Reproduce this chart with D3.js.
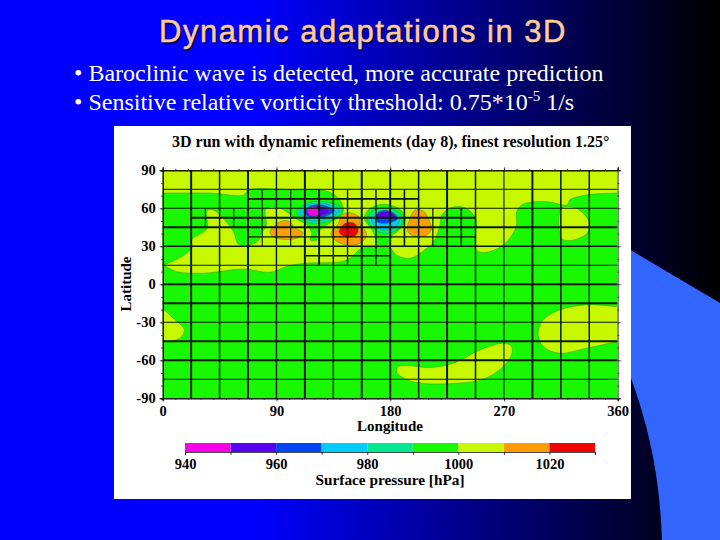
<!DOCTYPE html>
<html>
<head>
<meta charset="utf-8">
<script src="https://cdn.jsdelivr.net/npm/d3@7"></script>
<style>
  html, body { margin: 0; padding: 0; background: #000; overflow: hidden; }
  text { font-family: "Liberation Serif", serif; }
</style>
</head>
<body>
<div id="chart"></div>
<script>
// pressure levels and their colours
var levels = [940, 950, 960, 970, 980, 990, 1000, 1010, 1020, 1030]
var levelColors = ["#f800e8", "#5a00f0", "#0044f4", "#00ccf8", "#00e890", "#18f800", "#c8f800", "#ff9c00", "#f00000"]
var levelTicks = [940, 960, 980, 1000, 1020]
var lonTicks = [0, 90, 180, 270, 360]
var latTicks = [-90, -60, -30, 0, 30, 60, 90]

// contour regions as [longitude, latitude]
var northBand = [[-12, 103], [372, 103], [372, 72], [360, 72], [335, 70.5], [322, 66.6], [320, 62.6], [306, 65], [293, 65], [284, 62.6], [280, 57], [280, 47], [277, 40], [269.5, 31], [255, 25], [248, 27], [247, 36], [248, 51], [240, 60], [230, 61], [221, 55], [219, 45], [214, 33], [209, 28.4], [195.6, 20.5], [185, 23], [180, 28.4], [169, 29.7], [157.4, 28.4], [145.5, 19], [111, 16.5], [98, 14], [85, 9.5], [64, 12], [32, 8.7], [11, 10], [2, 14], [-3, 15], [-12, 15]]
var northWest = [[-12, 72], [0, 72], [37, 72], [64, 70.5], [68, 74.5], [106, 74.5], [128, 74], [138, 69], [143, 60], [141.6, 55], [130, 47], [122, 40], [122, 35], [116.5, 35], [118, 40], [114, 47], [105, 52], [93, 60], [82, 60], [81, 55], [82, 47], [78, 40], [76, 35], [69, 31], [60, 31.6], [56, 41.6], [48, 52], [40, 58.7], [35, 58], [35, 44], [23, 35], [23, 28.5], [0, 15], [-12, 14]]
var patchNorthEast = [[315.6, 60], [327.5, 60], [338, 48], [335.4, 40], [322, 34.5], [315.6, 36.3]]
var patchSouthWest = [[-8, -17], [0, -19.7], [8.4, -26.8], [16.9, -35.4], [15, -41.2], [8.4, -44.6], [0, -45], [-8, -45]]
var patchSouth = [[186.4, -64.9], [193, -64.1], [211.5, -65.7], [230, -62.3], [251, -51.8], [269.5, -46.5], [276, -49.1], [276, -55.7], [268, -66.2], [253.7, -74.9], [235, -78], [203.6, -78], [190.4, -74.1], [185, -68.9]]
var patchSouthEast = [[372, -18], [360, -17.6], [335.4, -16.2], [314, -20.2], [301, -28], [297, -38.6], [301, -49.1], [314, -54.4], [335.4, -50.4], [360, -45.2], [372, -43]]

var lowTwoGreen = [[159.5, 52], [163, 59], [172, 63], [182, 62], [190, 57], [191.7, 50], [186, 42], [181, 38], [179, 32], [170, 30], [168, 38], [165, 44]]
var lowOneTeal = [[106, 57], [112, 63], [122, 65.5], [134, 64], [142, 59], [138, 53], [126, 48.5], [114, 49]]
var lowOneCyan = [[108.5, 57], [113, 62], [122, 64], [133, 62.5], [139.5, 58.5], [135, 54], [125, 50.5], [114, 51]]
var lowOneBlue = [[111.5, 57], [115, 61], [122, 63], [131, 61.5], [136, 58], [132, 55], [124, 52.5], [115, 53.5]]
var lowOnePurple = [[113, 57], [116, 60.5], [122, 62], [129, 60.5], [132, 57.5], [128, 54.5], [122, 53.5], [115, 54.5]]
var lowOneMagenta = [[114.5, 58], [118, 60.5], [122, 60], [124, 57], [122, 54.5], [117, 54.5]]
var lowTwoTeal = [[162, 51], [165, 57], [172, 60], [182, 59.5], [189, 54], [189, 47], [184, 42], [176, 40], [168, 43]]
var lowTwoCyan = [[165, 51], [168, 56], [174, 58], [182, 57], [187, 52], [186, 47], [181, 43.5], [174, 43], [168, 46]]
var lowTwoBlue = [[168, 52], [171, 57], [177, 58.5], [183, 56], [186, 51.5], [181, 49], [175, 48], [170, 49]]
var lowTwoPurple = [[169, 54], [172, 57], [178, 57.5], [183, 55.5], [184, 52.5], [178, 51.5], [172, 51.5]]

var highWest = [[85, 41.6], [93, 49.5], [99.6, 50], [105, 44.4], [111, 40.4], [106, 36.3], [93, 35.8], [86, 38.6]]
var highMiddle = [[148, 56.5], [155, 53.4], [156, 48], [161.4, 39], [156, 32.3], [145.5, 31], [136.3, 35], [133, 40], [139, 48], [141.6, 54.7]]
var highMiddleRed = [[139.5, 41.5], [144, 48], [151, 48.6], [154.8, 42.8], [152, 38], [144, 37.6]]
var highEast = [[199.6, 58.6], [206, 58], [210, 52], [212.8, 44], [209, 39], [198.3, 38], [193.5, 42.8], [195.6, 52]]

// refinement grid: [lon, lat from, lat to, width] and [lat, lon from, lon to, width]
var gridLon = [
  [22.5, -90, 90, 2], [45, -90, 90, 1.5], [67.5, -90, 90, 2], [90, -90, 90, 1.4], [112.5, -90, 90, 2],
  [135, -90, 90, 1.5], [157.5, -90, 90, 2], [180, -90, 90, 2], [202.5, -90, 90, 1.5], [225, -90, 90, 2],
  [247.5, -90, 90, 1.5], [270, -90, 90, 1.1], [292.5, -90, 90, 2], [315, -90, 90, 1.5], [337.5, -90, 90, 1.5],
  [33.75, 45, 60, 1], [56.25, 45, 60, 1], [78.75, 30, 75, 1.1], [101.25, 30, 75, 1.1], [123.75, 15, 75, 1.9],
  [146.25, 15, 75, 1.4], [168.75, 15, 75, 1.4], [191.25, 30, 75, 1.6], [213.75, 30, 60, 1.2], [236.25, 30, 60, 1.6]
]
var gridLat = [
  [75, 0, 360, 1], [60, 0, 360, 1.1], [45, 0, 360, 2], [30, 0, 360, 1.5], [15, 0, 360, 1.1], [0, 0, 360, 2],
  [-15, 0, 360, 2], [-30, 0, 360, 1.1], [-45, 0, 360, 2], [-60, 0, 360, 2], [-75, 0, 360, 1.1],
  [67.5, 67.5, 202.5, 1.8], [52.5, 22.5, 247.5, 2], [37.5, 67.5, 247.5, 1.2], [22.5, 112.5, 180, 1.6]
]

var width = 720, height = 540

var svg = d3.select("#chart").append("svg")
  .attr("width", width)
  .attr("height", height)
  .style("display", "block")

var defs = svg.append("defs")
var bg = defs.append("linearGradient").attr("id", "bg")
bg.append("stop").attr("offset", "0.35").attr("stop-color", "#0000ff")
bg.append("stop").attr("offset", "1").attr("stop-color", "#000000")

svg.append("rect").attr("width", width).attr("height", height).attr("fill", "url(#bg)")

// light blue slide decoration behind the panel
svg.append("path")
  .attr("d", "M600,232 L720,303 L720,540 L662,540 C660,480 650,430 631,378 L600,300 Z")
  .attr("fill", "#3366ff")

// title and bullets
var titleAttrs = function(s) {
  s.attr("x", 363).attr("y", 42).attr("text-anchor", "middle")
    .style("font-family", "'Liberation Sans', sans-serif").style("font-size", "31px")
    .style("letter-spacing", "1.5px")
}
svg.append("text").call(titleAttrs).attr("transform", "translate(1.5,1.5)").attr("fill", "#000050").text("Dynamic adaptations in 3D")
svg.append("text").call(titleAttrs).attr("fill", "#ffcc99").attr("stroke", "#ffcc99").attr("stroke-width", 0.5).text("Dynamic adaptations in 3D")

svg.append("text").attr("x", 74).attr("y", 81).attr("fill", "#fff").style("font-size", "24px")
  .text("• Baroclinic wave is detected, more accurate prediction")
var second = svg.append("text").attr("x", 74).attr("y", 110).attr("fill", "#fff").style("font-size", "24px")
second.append("tspan").text("• Sensitive relative vorticity threshold: 0.75*10")
second.append("tspan").attr("dy", -9).style("font-size", "15px").text("-5")
second.append("tspan").attr("dy", 9).text(" 1/s")

// white panel
svg.append("rect").attr("x", 114).attr("y", 126).attr("width", 517).attr("height", 373).attr("fill", "#fff")

svg.append("text").attr("x", 172).attr("y", 147).attr("fill", "#000")
  .style("font-size", "16px").style("font-weight", "bold")
  .text("3D run with dynamic refinements (day 8), finest resolution 1.25°")

var x = d3.scaleLinear().domain([0, 360]).range([162.7, 617.7])
var y = d3.scaleLinear().domain([-90, 90]).range([398.3, 170.3])

defs.append("clipPath").attr("id", "plot").append("rect")
  .attr("x", x(0)).attr("y", y(90)).attr("width", x(360) - x(0)).attr("height", y(-90) - y(90))

var plot = svg.append("g").attr("clip-path", "url(#plot)")

plot.append("rect").attr("x", x(0)).attr("y", y(90)).attr("width", x(360) - x(0)).attr("height", y(-90) - y(90))
  .attr("fill", levelColors[5])

var contour = d3.line()
  .x(function(d) { return x(d[0]) })
  .y(function(d) { return y(d[1]) })
  .curve(d3.curveCatmullRomClosed.alpha(0.5))

function color(level) { return levelColors[levels.indexOf(level)] }

// painted from the outside in, so the inner levels stay on top
var regions = [
  [northBand, 1000], [northWest, 990], [lowTwoGreen, 990],
  [patchNorthEast, 1000], [patchSouthWest, 1000], [patchSouth, 1000], [patchSouthEast, 1000],
  [highWest, 1010], [highMiddle, 1010], [highMiddleRed, 1020], [highEast, 1010],
  [lowOneTeal, 980], [lowOneCyan, 970], [lowOneBlue, 960], [lowOnePurple, 950], [lowOneMagenta, 940],
  [lowTwoTeal, 980], [lowTwoCyan, 970], [lowTwoBlue, 960], [lowTwoPurple, 950]
]

plot.selectAll("path.region")
  .data(regions)
  .enter().append("path")
    .attr("class", "region")
    .attr("d", function(d) { return contour(d[0]) })
    .attr("fill", function(d) { return color(d[1]) })
    .attr("stroke", "#2c9a2c")
    .attr("stroke-width", 0.5)

// grid
plot.selectAll("line.glon")
  .data(gridLon)
  .enter().append("line")
    .attr("class", "glon")
    .attr("x1", function(d) { return x(d[0]) })
    .attr("x2", function(d) { return x(d[0]) })
    .attr("y1", function(d) { return y(d[1]) })
    .attr("y2", function(d) { return y(d[2]) })
    .attr("stroke", "#061a06")
    .attr("stroke-width", function(d) { return d[3] })

plot.selectAll("line.glat")
  .data(gridLat)
  .enter().append("line")
    .attr("class", "glat")
    .attr("y1", function(d) { return y(d[0]) })
    .attr("y2", function(d) { return y(d[0]) })
    .attr("x1", function(d) { return x(d[1]) })
    .attr("x2", function(d) { return x(d[2]) })
    .attr("stroke", "#061a06")
    .attr("stroke-width", function(d) { return d[3] })

// axes
function styleAxis(g) {
  g.selectAll("text").style("font-size", "14.5px").style("font-weight", "bold").attr("fill", "#000")
  g.selectAll("line").attr("stroke", "#000").attr("stroke-width", 0.7)
  g.selectAll("path").attr("stroke", "#000").attr("stroke-width", 0.9)
}

var lonMinor = d3.range(0, 361, 10), latMinor = d3.range(-90, 91, 10)

svg.append("g").attr("transform", "translate(0," + y(-90) + ")")
  .call(d3.axisBottom(x).tickValues(lonTicks).tickSize(3).tickPadding(4).tickFormat(function(d) { return d }))
  .call(styleAxis)
svg.append("g").attr("transform", "translate(0," + y(-90) + ")")
  .call(d3.axisBottom(x).tickValues(lonMinor).tickSize(1.5).tickFormat(""))
  .call(styleAxis)
svg.append("g").attr("transform", "translate(0," + y(90) + ")")
  .call(d3.axisTop(x).tickValues(lonTicks).tickSize(3).tickFormat(""))
  .call(styleAxis)
svg.append("g").attr("transform", "translate(0," + y(90) + ")")
  .call(d3.axisTop(x).tickValues(lonMinor).tickSize(1.5).tickFormat(""))
  .call(styleAxis)
svg.append("g").attr("transform", "translate(" + x(0) + ",0)")
  .call(d3.axisLeft(y).tickValues(latTicks).tickSize(3).tickPadding(4).tickFormat(function(d) { return d }))
  .call(styleAxis)
svg.append("g").attr("transform", "translate(" + x(0) + ",0)")
  .call(d3.axisLeft(y).tickValues(latMinor).tickSize(1.5).tickFormat(""))
  .call(styleAxis)
svg.append("g").attr("transform", "translate(" + x(360) + ",0)")
  .call(d3.axisRight(y).tickValues(latTicks).tickSize(3).tickFormat(""))
  .call(styleAxis)
svg.append("g").attr("transform", "translate(" + x(360) + ",0)")
  .call(d3.axisRight(y).tickValues(latMinor).tickSize(1.5).tickFormat(""))
  .call(styleAxis).selectAll("path").attr("stroke", "#999")

svg.append("text").attr("x", 390).attr("y", 431).attr("text-anchor", "middle").attr("fill", "#000")
  .style("font-size", "15px").style("font-weight", "bold").text("Longitude")
svg.append("text").attr("transform", "translate(131,284) rotate(-90)").attr("text-anchor", "middle").attr("fill", "#000")
  .style("font-size", "15px").style("font-weight", "bold").text("Latitude")

// colour bar
var barX = d3.scaleLinear().domain([940, 1030]).range([185, 595])
var barTop = 443, barHeight = 9

svg.selectAll("rect.level")
  .data(levelColors)
  .enter().append("rect")
    .attr("class", "level")
    .attr("x", function(d, i) { return barX(levels[i]) })
    .attr("y", barTop)
    .attr("width", function(d, i) { return barX(levels[i + 1]) - barX(levels[i]) })
    .attr("height", barHeight)
    .attr("fill", function(d) { return d })

svg.append("g").attr("transform", "translate(0," + (barTop + barHeight) + ")")
  .call(d3.axisBottom(barX).tickValues(levels).tickSize(3).tickFormat(""))
  .call(styleAxis)
  .select("path").attr("stroke", "#333")
svg.append("g").attr("transform", "translate(0," + (barTop + barHeight) + ")")
  .call(d3.axisBottom(barX).tickValues(levelTicks).tickSize(0).tickPadding(7).tickFormat(function(d) { return d }))
  .call(styleAxis)
  .select("path").remove()

svg.append("text").attr("x", 390).attr("y", 485).attr("text-anchor", "middle").attr("fill", "#000")
  .style("font-size", "15.3px").style("font-weight", "bold").text("Surface pressure [hPa]")
</script>
</body>
</html>
